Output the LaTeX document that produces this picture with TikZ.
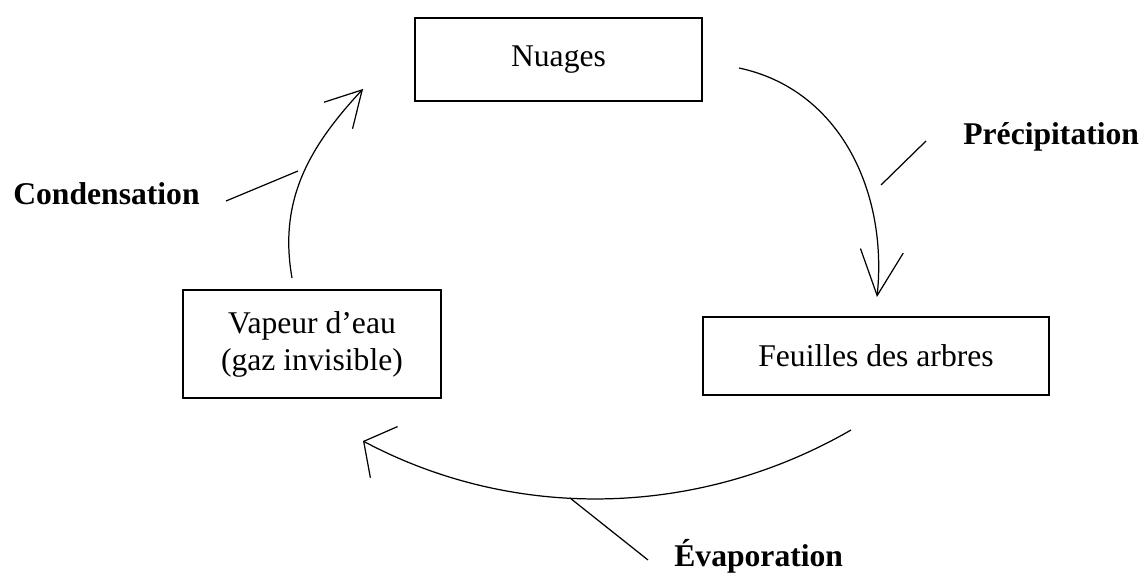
\documentclass[tikz,border=0pt]{standalone}
\usepackage{fontspec}
\setmainfont{Liberation Serif}
\usetikzlibrary{arrows.meta}

\begin{document}
\begin{tikzpicture}[x=0.02cm,y=-0.02cm,
  box/.style={draw=black, line width=1.5pt, inner sep=0pt, align=center},
  cycle/.style={black, line width=0.7pt},
  tag/.style={font=\fontsize{18}{21}\selectfont\bfseries, inner sep=0pt, anchor=base west},
  pointer/.style={black, line width=0.7pt}]
\tikzstyle{every node}+=[font=\fontsize{18}{21}\selectfont]
\useasboundingbox (0,0) rectangle (1143,574);
\node [box, minimum width=5.74cm, minimum height=1.66cm] (nuages) at (558.5,59.5) {Nuages};
\node [box, minimum width=6.92cm, minimum height=1.56cm] (feuilles) at (876,356) {Feuilles des arbres};
\node [box, minimum width=5.16cm, minimum height=2.16cm] (vapeur) at (312,344) {Vapeur d’eau\\(gaz invisible)};
\coordinate (nstart) at (739,68);
\coordinate (ftop) at (877,297);
\coordinate (fbot) at (851,430);
\coordinate (vbot) at (363,441);
\coordinate (vtop) at (292,278);
\coordinate (ntip) at (363,89);
\draw [cycle, -{Straight Barb[length=0.9cm, width=0.86cm]}] (nstart) to[out=-12, in=84] (ftop);
\draw [cycle, -{Straight Barb[length=0.46cm, width=1.16cm]}] (fbot) to[out=210, in=-28, looseness=0.91] (vbot);
\draw [cycle, -{Straight Barb[length=0.7cm, width=0.78cm]}] (vtop) to[out=100, in=227] (ntip);
\node [tag] (precip) at (963,145) {Précipitation};
\node [tag] (cond) at (13,205) {Condensation};
\node [tag] (evap) at (674,566) {Évaporation};
\coordinate (precipfoot) at (881,185);
\coordinate (precipend) at (926,141);
\coordinate (condfoot) at (298,171);
\coordinate (condend) at (226,201);
\coordinate (evapfoot) at (570,498);
\coordinate (evapend) at (648,560);
\draw [pointer] (precipfoot) -- (precipend);
\draw [pointer] (condfoot) -- (condend);
\draw [pointer] (evapfoot) -- (evapend);
\end{tikzpicture}
\end{document}
